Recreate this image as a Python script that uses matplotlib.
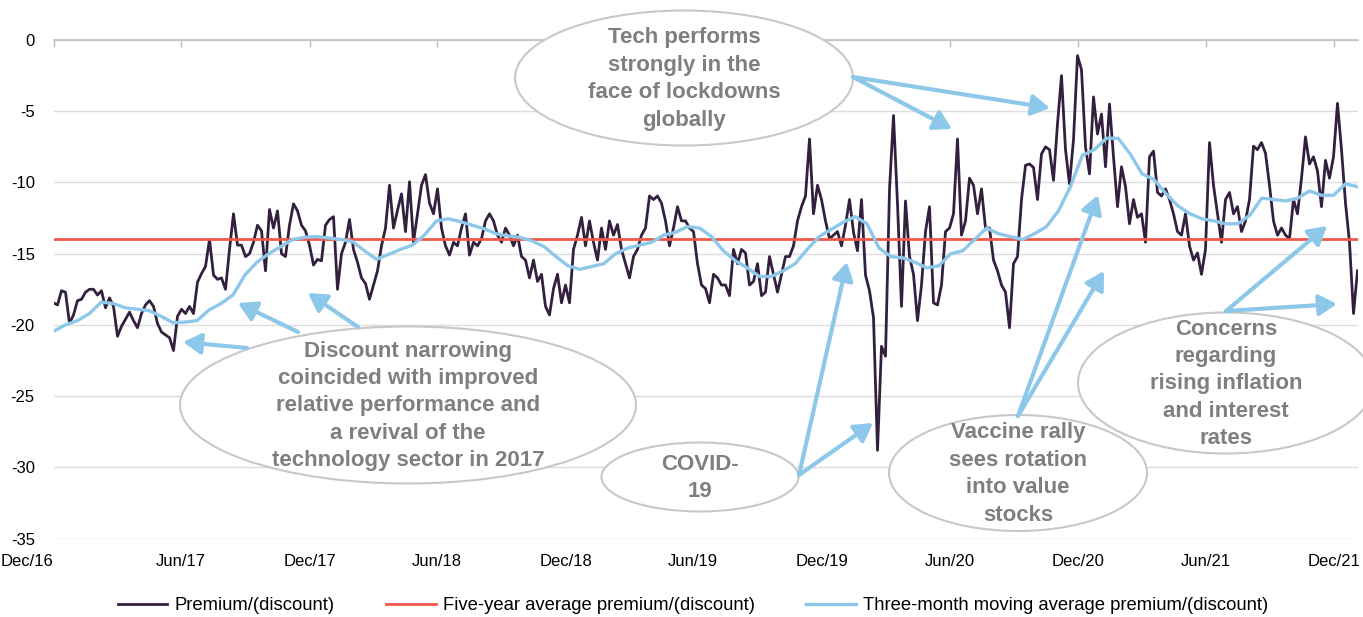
import numpy as np
import pandas as pd
import matplotlib
matplotlib.use('Agg')
import matplotlib.pyplot as plt
from matplotlib.patches import Ellipse, FancyArrowPatch

plt.rcParams['font.family'] = ['Liberation Sans', 'DejaVu Sans']

# ---- data ----
start_date = '2016-12-01'
end_date = '2022-01-03'

# premium/(discount), roughly every 6 days
prem_2017 = [-18.45, -18.6, -17.6, -17.7, -19.9, -19.3, -18.3, -18.2, -17.7, -17.5,
             -17.5, -17.9, -17.6, -18.8, -18.1, -18.7, -20.8, -20.1, -19.6, -19.1,
             -19.7, -20.2, -19.2, -18.6, -18.3, -18.7, -19.9, -20.5, -20.7, -20.9,
             -21.8, -19.4, -18.9, -19.2, -18.7, -19.2, -17.0, -16.4, -15.9, -14.0,
             -16.5, -16.8, -16.7, -17.5, -14.7, -12.2, -14.4, -14.4, -15.2, -15.0,
             -14.2, -13.0, -13.4, -16.2, -11.9, -13.2, -12.0, -15.0, -15.2, -13.0,
             -11.5, -12.0, -13.0, -13.4, -14.4, -15.8, -15.4, -15.5, -13.0, -12.6,
             -12.4, -17.5, -15.0, -14.2, -12.6, -14.7, -15.6]
prem_2018 = [-16.7, -17.1, -18.2, -17.2, -16.2, -14.45, -13.2, -10.2, -13.2, -11.95,
             -10.8, -13.45, -9.95, -14.2, -12.2, -10.2, -9.45, -11.45, -12.2, -10.45,
             -13.2, -14.45, -15.1, -14.2, -14.45, -13.2, -12.2, -15.1, -14.2, -14.45,
             -13.95, -12.7, -12.2, -12.7, -13.7, -14.2, -13.2, -13.7, -14.45, -13.7,
             -15.2, -15.45, -16.7, -15.45, -16.95, -16.45, -18.7, -19.3, -17.45, -16.45,
             -18.45, -17.2, -18.45, -14.7, -13.7, -12.45, -14.45, -12.7, -14.2, -15.45,
             -13.2, -14.7, -12.7, -13.7, -12.95, -14.7, -15.7, -16.7, -15.2, -14.7,
             -13.7, -13.2, -10.95, -11.2, -10.95, -11.45, -12.7, -14.45, -13.2, -11.7,
             -12.7, -12.7, -13.2, -13.45, -15.7]
prem_2019 = [-17.2, -17.45, -18.45, -16.45, -16.7, -17.2, -17.2, -17.95, -14.7, -15.7,
             -14.7, -14.95, -17.2, -16.95, -15.7, -17.95, -17.7, -15.2, -16.45, -17.7,
             -16.45, -15.2, -15.2, -14.45, -12.7, -11.7, -10.95, -6.95, -12.2, -10.2,
             -11.2, -12.7, -13.95, -13.7, -13.45, -14.45, -13.0, -11.2, -13.5, -14.8,
             -11.2, -16.5, -17.6, -19.5, -28.8, -21.5, -22.2, -10.5, -5.3, -11.5,
             -18.7, -11.3, -15.2, -16.45, -19.7, -17.2, -13.45, -11.7, -18.45, -18.6,
             -17.2, -13.45, -13.2, -12.2, -6.95, -13.7, -12.7, -9.7, -10.2, -12.2,
             -10.45, -13.2, -13.2, -15.45, -16.2, -17.2, -17.7, -20.2, -15.7, -15.2,
             -11.2, -8.8, -8.7, -8.95, -11.2]
prem_2021 = [-8.0, -7.5, -7.7, -9.85, -5.9, -2.5, -7.7, -10.1, -7.0, -1.1,
             -2.1, -7.5, -9.4, -4.0, -6.6, -5.2, -8.9, -4.5, -8.2, -11.7,
             -8.9, -10.3, -12.9, -11.2, -12.45, -12.2, -14.2, -8.2, -7.8, -10.7,
             -10.95, -10.45, -11.2, -12.2, -13.45, -13.7, -12.2, -14.45, -15.45, -14.95,
             -16.45, -14.7, -7.2, -10.2, -12.2, -14.2, -11.2, -10.7, -12.2, -11.7,
             -13.45, -12.7, -11.2, -7.45, -7.7, -7.2, -7.95, -10.2, -12.7, -13.7,
             -13.2, -13.7, -13.95, -11.2, -12.2, -9.7, -6.8, -8.7, -8.2, -9.2,
             -11.7, -8.45, -9.7, -8.2, -4.45, -7.7, -11.45, -14.2, -19.2, -16.2]

# three-month moving average, roughly every 17 days
ma_2017 = [-20.45, -20.0, -19.7, -19.2, -18.4, -18.5, -18.8, -18.9, -19.0, -19.4,
           -19.85, -19.8, -19.7, -18.95, -18.5, -17.9, -16.5, -15.6, -15.0, -14.5,
           -14.0, -13.85, -13.8, -13.9, -14.0]
ma_2018 = [-14.15, -14.8, -15.4, -15.05, -14.7, -14.4, -13.7, -12.7, -12.55, -12.75,
           -13.0, -13.25, -13.6, -13.75, -13.85, -14.1, -14.5, -15.2, -15.85, -16.1,
           -15.9, -15.7, -15.0, -14.6, -14.4, -14.2, -13.7, -13.5, -13.1]
ma_2019 = [-13.2, -13.8, -14.8, -15.5, -16.0, -16.6, -16.6, -16.2, -15.7, -14.7,
           -13.8, -13.3, -12.8, -12.4, -12.9, -14.6, -15.2, -15.3]
ma_2020 = [-15.6, -16.0, -15.85, -15.0, -14.8, -14.0, -13.2, -13.6, -13.8, -14.0,
           -13.6, -13.1, -12.0, -10.3, -8.1, -7.7, -6.9, -6.9, -8.0]
ma_2021 = [-9.4, -9.8, -10.8, -11.65, -12.2, -12.55, -12.7, -12.9, -12.9, -12.3,
           -11.1, -11.2, -11.3, -11.1, -10.6, -10.9, -10.9, -10.1, -10.3]

five_year_avg = -14.0

tick_dates = ['2016-12-01', '2017-06-01', '2017-12-01', '2018-06-01', '2018-12-01',
              '2019-06-01', '2019-12-01', '2020-06-01', '2020-12-01', '2021-06-01',
              '2021-12-01']
tick_labels = ['Dec/16', 'Jun/17', 'Dec/17', 'Jun/18', 'Dec/18', 'Jun/19',
               'Dec/19', 'Jun/20', 'Dec/20', 'Jun/21', 'Dec/21']
y_ticks = [0, -5, -10, -15, -20, -25, -30, -35]

legend_labels = ['Premium/(discount)', 'Five-year average premium/(discount)',
                 'Three-month moving average premium/(discount)']

notes = [
    'Discount narrowing\ncoincided with improved\nrelative performance and\na revival of the\ntechnology sector in 2017',
    'Tech performs\nstrongly in the\nface of lockdowns\nglobally',
    'COVID-\n19',
    'Vaccine rally\nsees rotation\ninto value\nstocks',
    'Concerns\nregarding\nrising inflation\nand interest\nrates',
]

# ---- plot ----
premium = np.array(prem_2017 + prem_2018 + prem_2019 + prem_2021)
moving_avg = np.array(ma_2017 + ma_2018 + ma_2019 + ma_2020 + ma_2021)
dates = pd.date_range(start_date, end_date, periods=len(premium))
ma_dates = pd.date_range(start_date, end_date, periods=len(moving_avg))

W, H = 1363, 617
purple = '#33203F'
red = '#F0584A'
blue = '#8DC8EB'
grey_txt = '#7F7F7F'


def fpos(x, y):
    # pixel position in the picture -> figure fraction
    return (x / W, 1 - y / H)


fig = plt.figure(figsize=(W / 100, H / 100), dpi=100)
ax = fig.add_axes([53.5 / W, 1 - 538.6 / H, (1357.5 - 53.5) / W, (538.6 - 40) / H])

l1, = ax.plot(dates, premium, color=purple, lw=2.0, zorder=3)
l2, = ax.plot(dates, [five_year_avg] * len(dates), color=red, lw=2.0, zorder=4)
l3, = ax.plot(ma_dates, moving_avg, color=blue, lw=2.4, zorder=5)

ax.set_xlim(dates[0], dates[-1])
ax.set_ylim(-35, 0)
ax.set_yticks(y_ticks)
ax.set_yticklabels([str(v) for v in y_ticks])
ax.set_xticks(pd.to_datetime(tick_dates))
ax.set_xticklabels(tick_labels)
ax.get_xticklabels()[0].set_ha('right')

for s in ['left', 'right', 'bottom']:
    ax.spines[s].set_visible(False)
ax.spines['top'].set_color('#BFBFBF')
ax.spines['top'].set_linewidth(1.2)
ax.yaxis.grid(True, color='#DDDDDD', lw=1)
ax.set_axisbelow(True)
ax.tick_params(axis='x', bottom=False, top=True, labelbottom=True, labeltop=False,
               direction='in', length=5, width=1, color='#BFBFBF', labelsize=12, pad=11)
ax.tick_params(axis='y', left=False, labelsize=12, pad=10)

fig.legend([l1, l2, l3], legend_labels, loc='center', bbox_to_anchor=fpos(693, 606),
           ncol=3, frameon=False, fontsize=13.3, handlelength=2.7, handletextpad=0.4,
           columnspacing=2.75)

# call-out ellipses: centre x, centre y, width, height (pixels)
shapes = [(408, 405, 456, 157), (684, 78, 338, 135), (700, 477, 197, 69),
          (1018, 473, 258, 116), (1226, 383, 296, 141)]
for (cx, cy, w, h), txt in zip(shapes, notes):
    fig.add_artist(Ellipse(fpos(cx, cy), w / W, h / H, transform=fig.transFigure,
                           facecolor='white', edgecolor='#C8C8C8', lw=1.5, zorder=6))
    fig.text(*fpos(cx, cy + 1), txt, ha='center', va='center', fontsize=16,
             fontweight='bold', color=grey_txt, linespacing=1.4, zorder=8)

arrows = [((247, 348), (183, 342)), ((298, 332), (238, 303)), ((358, 327), (308, 293)),
          ((853, 77), (952, 129)), ((853, 77), (1050, 108)),
          ((799, 475), (847, 262)), ((799, 475), (873, 423)),
          ((1018, 416), (1098, 195)), ((1018, 416), (1104, 271)),
          ((1226, 311), (1327, 226)), ((1226, 311), (1337, 304))]
for a, b in arrows:
    fig.add_artist(FancyArrowPatch(fpos(*a), fpos(*b), transform=fig.transFigure,
                                   arrowstyle='-|>,head_length=0.6,head_width=0.35',
                                   mutation_scale=18, lw=3, color=blue,
                                   shrinkA=0, shrinkB=0, zorder=7))

fig.savefig('out.png', dpi=100)
